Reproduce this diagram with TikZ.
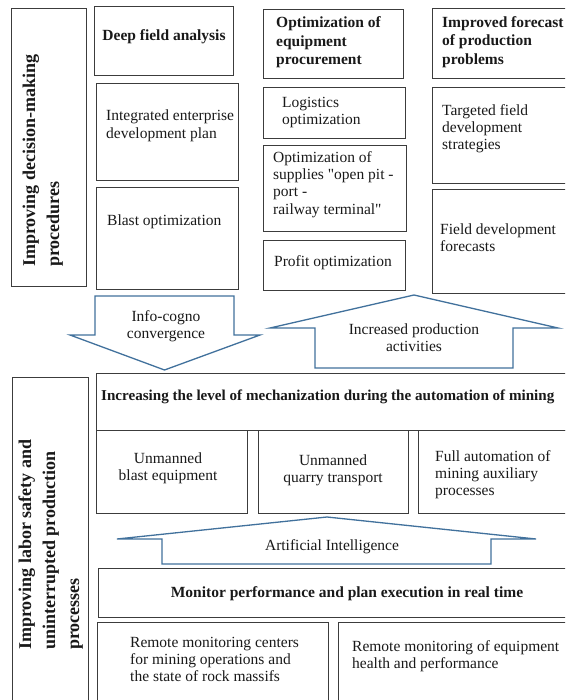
\documentclass[tikz,border=0pt]{standalone}
\usepackage{fontspec}
\setmainfont{Liberation Serif}
\newfontfamily\rawserif{Liberation Serif}
\definecolor{boxgray}{RGB}{60,60,60}
\definecolor{arrowblue}{RGB}{65,113,156}
\definecolor{txtcol}{RGB}{25,25,25}
\newcommand\mybox[5]{\node[box,minimum width={(#4-#2)*1pt},minimum height={(#5-#3)*1pt}] (#1) at (#2,#3) {};}
\tikzset{
  box/.style={draw=boxgray,line width=0.9pt,inner sep=0pt,anchor=north west,fill=white},
  txt/.style={inner sep=0pt,anchor=north west,align=left,text=txtcol,font=\fontsize{15.5}{17.3}\selectfont},
  ctxt/.style={txt,anchor=north,align=center},
  btxt/.style={txt,font=\fontsize{15.5}{18.5}\selectfont\bfseries},
  cbtxt/.style={btxt,anchor=north,align=center},
  rtxt/.style={inner sep=0pt,anchor=north west,align=left,rotate=90,text=txtcol,font=\fontsize{18}{24}\selectfont\bfseries},
  bigarrow/.style={draw=arrowblue,line width=1.3pt,fill=white,line join=miter}
}
\begin{document}
\begin{tikzpicture}[x=1pt,y=-1pt]
\useasboundingbox (0,0) rectangle (565,700);
\clip (0,0) rectangle (565,700);
\fill[white] (0,0) rectangle (565,700);
% upper part
\mybox{left1}{11}{8}{86}{286}
\mybox{dfa}{94}{6}{233}{75}
\mybox{iep}{96}{83}{238}{180}
\mybox{blast}{96}{187}{238}{289}
\mybox{oep}{263}{9}{403}{78}
\mybox{log}{263}{87}{405}{138}
\mybox{sup}{263}{145}{406}{231}
\mybox{prof}{263}{240}{405}{290}
\mybox{ifp}{432}{8}{580}{78}
\mybox{tfd}{432}{87}{580}{183}
\mybox{fdf}{432}{189}{580}{293}
% lower part
\mybox{left2}{12}{377}{88}{720}
\mybox{inc}{96}{373}{580}{430}
\mybox{ub}{96}{430}{247}{513}
\mybox{uq}{258}{430}{408}{513}
\mybox{fa}{418}{430}{580}{513}
\mybox{mon}{98}{568}{580}{617}
\mybox{rmc}{97}{622}{328}{720}
\mybox{rme}{338}{622}{580}{720}
% arrows
\draw[bigarrow] (95,296) -- (234,296) -- (234,335) -- (260,335) -- (164.5,370) -- (70,335) -- (95,335) -- cycle;
\draw[bigarrow] (414,295) -- (558,328) -- (513,328) -- (513,368) -- (315,368) -- (315,328) -- (270,328) -- cycle;
\draw[bigarrow] (327,517) -- (536,539) -- (491,539) -- (491,564) -- (162,564) -- (162,539) -- (117,539) -- cycle;
% texts
\node[rtxt] (t-left1) at (18,267) {\strut Improving decision-making\\procedures};
\node[cbtxt] (t-dfa) at (164,27) {\strut Deep field analysis};
\node[txt] (t-iep) at (106,108.4) {\strut Integrated enterprise\\development plan};
\node[txt] (t-blast) at (107,213) {\strut Blast optimization};
\node[btxt] (t-oep) at (276,14.5) {\strut Optimization of\\equipment\\procurement};
\node[txt] (t-log) at (282,95) {\strut Logistics\\optimization};
\node[txt,font=\fontsize{15.5}{17.3}\selectfont\rawserif] (t-sup) at (273,150) {\strut Optimization of\\supplies "open pit -\\port -\\railway terminal"};
\node[txt] (t-prof) at (274,254) {\strut Profit optimization};
\node[btxt] (t-ifp) at (442,14) {\strut Improved forecast\\of production\\problems};
\node[txt] (t-tfd) at (442,103) {\strut Targeted field\\development\\strategies};
\node[txt] (t-fdf) at (440,222) {\strut Field development\\forecasts};
\node[ctxt] (t-icc) at (166,309) {\strut Info-cogno\\convergence};
\node[ctxt] (t-ipa) at (414,322) {\strut Increased production\\activities};
\node[rtxt] (t-left2) at (14,650) {\strut Improving labor safety and\\uninterrupted production\\processes};
\node[btxt,font=\fontsize{15.1}{18.5}\selectfont\bfseries] (t-inc) at (101,387) {\strut Increasing the level of mechanization during the automation of mining};
\node[ctxt] (t-ub) at (168,451) {\strut Unmanned\\blast equipment};
\node[ctxt] (t-uq) at (333,453) {\strut Unmanned\\quarry transport};
\node[txt] (t-fa) at (435,449) {\strut Full automation of\\mining auxiliary\\processes};
\node[ctxt] (t-ai) at (332,538) {\strut Artificial Intelligence};
\node[cbtxt] (t-mon) at (347,584) {\strut Monitor performance and plan execution in real time};
\node[txt] (t-rmc) at (130,635) {\strut Remote monitoring centers\\for mining operations and\\the state of rock massifs};
\node[txt] (t-rme) at (352,639) {\strut Remote monitoring of equipment\\health and performance};
\end{tikzpicture}
\end{document}
